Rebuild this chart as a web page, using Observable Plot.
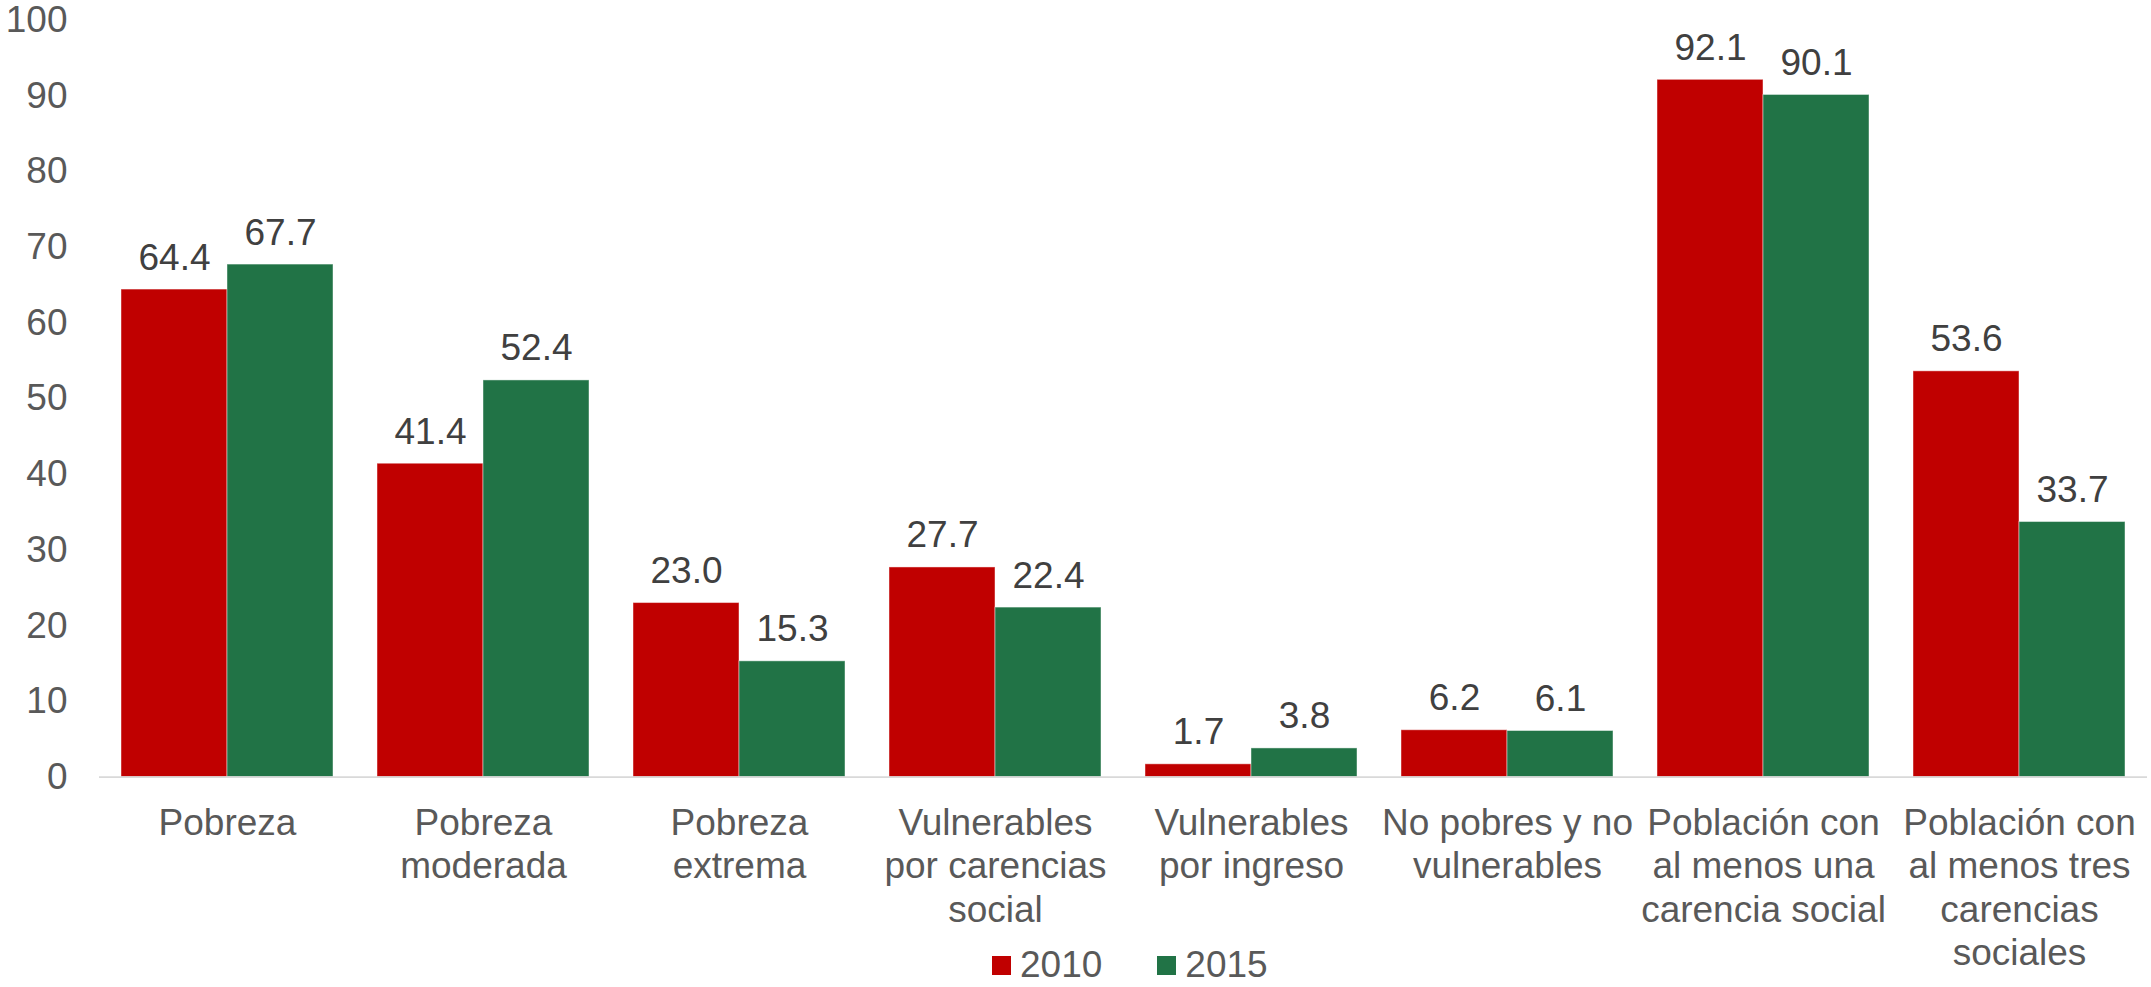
<!DOCTYPE html>
<html>
<head>
<meta charset="utf-8">
<script src="https://cdn.jsdelivr.net/npm/d3@7"></script>
<script src="https://cdn.jsdelivr.net/npm/@observablehq/plot@0.6"></script>
<style>
  html, body { margin: 0; padding: 0; background: #ffffff; }
  #wrap { position: relative; width: 2151px; height: 987px; overflow: hidden; font-family: "Liberation Sans", Arial, sans-serif; }
  #legend { position: absolute; left: 992px; top: 950px; display: flex; align-items: center; gap: 55px; font-size: 37px; line-height: 30px; height: 30px; color: #595959; }
  #legend .item { display: flex; align-items: center; }
  #legend .sw { width: 19px; height: 19px; margin-right: 9px; }
</style>
</head>
<body>
<div id="wrap"></div>
<script>
const categories = [
  "Pobreza",
  "Pobreza moderada",
  "Pobreza extrema",
  "Vulnerables por carencias social",
  "Vulnerables por ingreso",
  "No pobres y no vulnerables",
  "Población con al menos una carencia social",
  "Población con al menos tres carencias sociales"
];
const categoryLabels = [
  "Pobreza",
  "Pobreza\nmoderada",
  "Pobreza\nextrema",
  "Vulnerables\npor carencias\nsocial",
  "Vulnerables\npor ingreso",
  "No pobres y no\nvulnerables",
  "Población con\nal menos una\ncarencia social",
  "Población con\nal menos tres\ncarencias\nsociales"
];
const years = ["2010", "2015"];
const values2010 = [64.4, 41.4, 23.0, 27.7, 1.7, 6.2, 92.1, 53.6];
const values2015 = [67.7, 52.4, 15.3, 22.4, 3.8, 6.1, 90.1, 33.7];
const yTicks = [0, 10, 20, 30, 40, 50, 60, 70, 80, 90, 100];
const colors = ["#C00000", "#217346"];

const data = categories.flatMap((c, i) => [
  {category: c, year: years[0], value: values2010[i]},
  {category: c, year: years[1], value: values2015[i]}
]);

const chart = Plot.plot({
  width: 2151,
  height: 987,
  marginLeft: 96,
  marginRight: 0,
  marginTop: 19.5,
  marginBottom: 210.3,
  style: {fontFamily: '"Liberation Sans", Arial, sans-serif', fontSize: "37px", background: "#ffffff", color: "#595959"},
  fx: {domain: categories, paddingInner: 0.17, paddingOuter: 0.085, label: null},
  x: {domain: years, padding: 0, axis: null},
  y: {domain: [0, 100], axis: null, label: null},
  color: {domain: years, range: colors},
  marks: [
    Plot.barY(data, {fx: "category", x: "year", y: "value", fill: "year", stroke: "#ffffff", strokeOpacity: 0.45, strokeWidth: 1}),
    Plot.ruleY([0], {stroke: "#d9d9d9", strokeWidth: 1.7, insetLeft: -22, insetRight: -22}),
    Plot.text(data, {fx: "category", x: "year", y: "value", text: d => d.value.toFixed(1), lineAnchor: "bottom", dy: -20, fill: "#404040", fontSize: 37}),
    Plot.axisY({ticks: yTicks, tickSize: 0, tickPadding: 54, fontSize: 37, fill: "#595959", label: null}),
    Plot.axisFx({anchor: "bottom", tickSize: 0, tickPadding: 27, tickFormat: d => categoryLabels[categories.indexOf(d)], lineAnchor: "top", lineHeight: 1.17, fontSize: 37, fill: "#595959", label: null})
  ]
});

const wrap = document.getElementById("wrap");
wrap.appendChild(chart);

const legend = document.createElement("div");
legend.id = "legend";
years.forEach((y, i) => {
  const item = document.createElement("div");
  item.className = "item";
  const sw = document.createElement("div");
  sw.className = "sw";
  sw.style.background = colors[i];
  const t = document.createElement("span");
  t.textContent = y;
  item.appendChild(sw);
  item.appendChild(t);
  legend.appendChild(item);
});
wrap.appendChild(legend);
</script>
</body>
</html>
